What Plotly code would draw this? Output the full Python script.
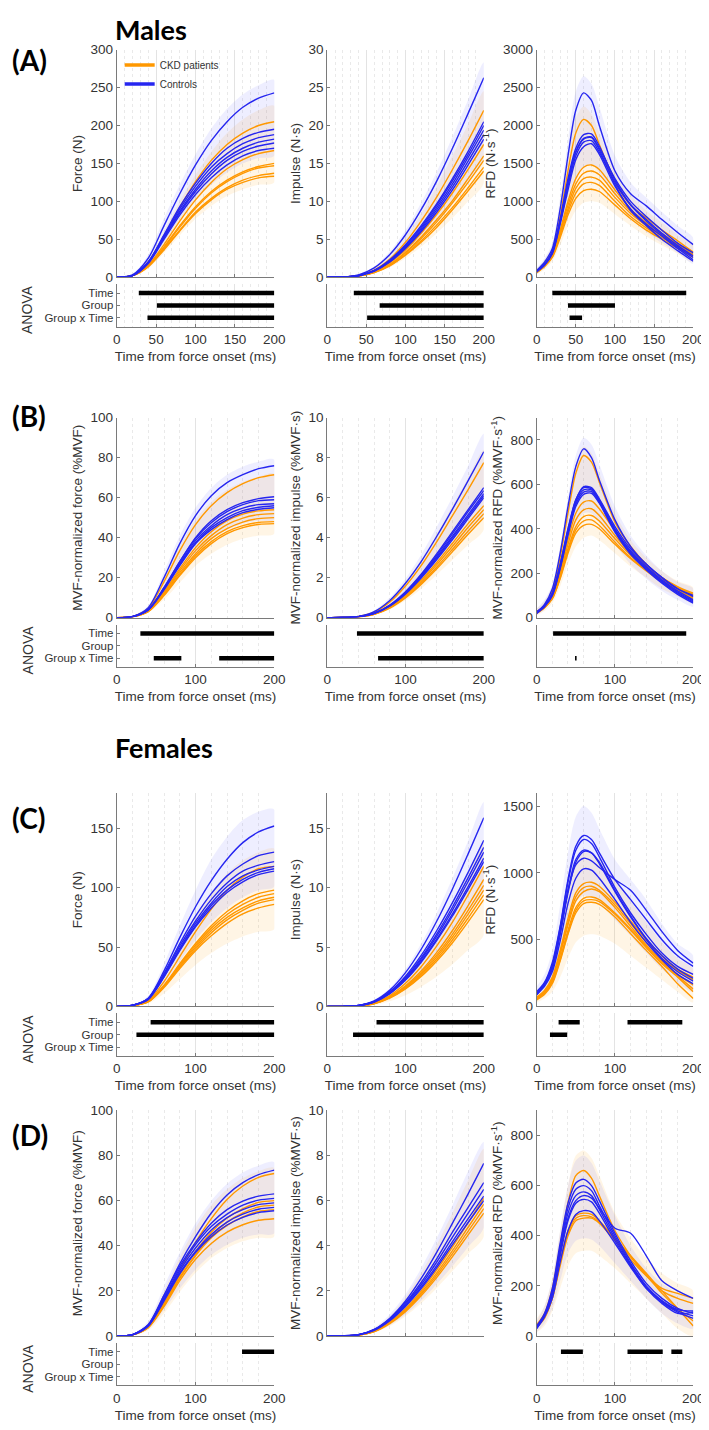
import plotly.graph_objects as go

W, H = 709, 1430

# ---------------- time bases (ms) ----------------
T_F = [0, 20, 40, 60, 80, 100, 120, 140, 160, 180, 200]
T_R = [0, 10, 20, 30, 40, 50, 60, 70, 80, 100, 120, 140, 160, 180, 200]

# ================= (A) Males, absolute =================
A_FORCE_CTRL = [
    [0, 3, 25, 68, 110, 148, 180, 205, 224, 236, 243],
    [0, 2, 20, 56, 93, 124, 150, 170, 183, 191, 195],
    [0, 2, 20, 55, 90, 120, 145, 163, 176, 184, 188],
    [0, 2, 19, 53, 87, 116, 140, 158, 170, 178, 182],
    [0, 2, 19, 52, 85, 113, 136, 154, 166, 173, 177],
    [0, 2, 18, 50, 82, 109, 131, 148, 160, 167, 170],
]
A_FORCE_CKD = [
    [0, 2, 20, 54, 92, 126, 154, 175, 190, 200, 205],
    [0, 2, 16, 43, 74, 102, 125, 143, 155, 163, 167],
    [0, 2, 15, 40, 68, 93, 113, 128, 139, 146, 150],
    [0, 2, 15, 39, 66, 91, 111, 126, 137, 144, 147],
    [0, 2, 14, 37, 62, 86, 104, 118, 128, 134, 137],
    [0, 2, 14, 36, 61, 84, 102, 116, 125, 131, 133],
]
A_FORCE_CTRL_BAND = ([0, 4, 30, 78, 122, 162, 196, 222, 241, 253, 260],
                     [0, 1, 15, 45, 76, 101, 122, 138, 150, 157, 160])
A_FORCE_CKD_BAND = ([0, 3, 23, 60, 100, 135, 165, 190, 208, 220, 226],
                    [0, 1, 11, 32, 55, 77, 94, 107, 116, 122, 125])

A_IMP_CTRL = [
    [0, 0.03, 0.31, 1.24, 3.0, 5.6, 8.9, 12.7, 17.0, 21.6, 26.3],
    [0, 0.02, 0.22, 0.9, 2.3, 4.3, 6.8, 9.7, 13.0, 16.6, 20.5],
    [0, 0.02, 0.21, 0.88, 2.2, 4.2, 6.6, 9.5, 12.7, 16.2, 20.0],
    [0, 0.02, 0.2, 0.85, 2.1, 4.05, 6.4, 9.2, 12.3, 15.8, 19.4],
    [0, 0.02, 0.2, 0.82, 2.05, 3.9, 6.2, 8.9, 11.9, 15.3, 18.8],
    [0, 0.02, 0.19, 0.8, 2.0, 3.8, 6.0, 8.6, 11.5, 14.8, 18.2],
]
A_IMP_CKD = [
    [0, 0.02, 0.22, 0.95, 2.4, 4.6, 7.4, 10.6, 14.2, 18.0, 22.0],
    [0, 0.02, 0.17, 0.75, 1.9, 3.6, 5.8, 8.3, 11.1, 14.2, 17.5],
    [0, 0.02, 0.16, 0.68, 1.7, 3.3, 5.3, 7.6, 10.1, 13.0, 16.0],
    [0, 0.02, 0.15, 0.66, 1.65, 3.2, 5.1, 7.3, 9.8, 12.5, 15.4],
    [0, 0.02, 0.14, 0.62, 1.55, 3.0, 4.8, 6.9, 9.2, 11.8, 14.5],
    [0, 0.02, 0.14, 0.6, 1.5, 2.9, 4.6, 6.6, 8.9, 11.4, 14.0],
]
A_IMP_CTRL_BAND = ([0, 0.04, 0.35, 1.4, 3.4, 6.2, 9.8, 13.9, 18.5, 23.4, 28.3],
                   [0, 0.01, 0.15, 0.65, 1.65, 3.1, 5.0, 7.2, 9.7, 12.5, 15.5])
A_IMP_CKD_BAND = ([0, 0.03, 0.28, 1.15, 2.8, 5.3, 8.4, 12.0, 16.0, 20.2, 24.5],
                  [0, 0.01, 0.11, 0.5, 1.3, 2.5, 4.0, 5.8, 7.8, 10.0, 12.4])

A_RFD_CTRL = [
    [90, 200, 380, 900, 1600, 2200, 2430, 2330, 2000, 1400, 1100, 940, 760, 590, 430],
    [80, 170, 330, 740, 1250, 1650, 1830, 1850, 1700, 1300, 1000, 800, 620, 450, 320],
    [80, 170, 340, 760, 1300, 1700, 1880, 1890, 1730, 1280, 960, 760, 580, 420, 280],
    [80, 160, 320, 720, 1200, 1600, 1780, 1800, 1650, 1250, 950, 740, 560, 400, 260],
    [80, 160, 310, 700, 1150, 1550, 1720, 1760, 1620, 1200, 900, 700, 540, 380, 230],
    [70, 160, 330, 740, 1250, 1650, 1820, 1840, 1680, 1220, 880, 680, 500, 350, 210],
]
A_RFD_CKD = [
    [80, 180, 340, 800, 1400, 1900, 2080, 2000, 1750, 1250, 950, 780, 620, 480, 330],
    [70, 160, 300, 620, 1000, 1300, 1450, 1480, 1420, 1150, 900, 720, 580, 440, 330],
    [70, 150, 290, 600, 950, 1230, 1370, 1400, 1350, 1100, 870, 700, 560, 430, 300],
    [70, 150, 280, 570, 900, 1170, 1300, 1320, 1280, 1050, 840, 680, 540, 410, 290],
    [60, 140, 270, 550, 860, 1110, 1230, 1250, 1210, 1000, 800, 650, 520, 400, 280],
    [60, 140, 260, 520, 820, 1040, 1140, 1160, 1130, 950, 770, 620, 500, 380, 260],
]
A_RFD_CTRL_BAND = ([120, 250, 450, 1050, 1800, 2450, 2650, 2550, 2250, 1600, 1250, 1050, 860, 680, 520],
                   [50, 120, 250, 550, 950, 1300, 1450, 1480, 1380, 1080, 800, 600, 450, 320, 180])
A_RFD_CKD_BAND = ([110, 230, 420, 950, 1600, 2100, 2250, 2150, 1900, 1400, 1080, 880, 720, 560, 420],
                  [40, 100, 210, 420, 680, 880, 980, 1000, 980, 830, 680, 540, 420, 310, 200])

A_FORCE_ANOVA = [("Time", 28, 200), ("Group", 51, 200), ("Group x Time", 39, 200)]
A_IMP_ANOVA = [("Time", 34, 200), ("Group", 67, 200), ("Group x Time", 51, 200)]
A_RFD_ANOVA = [("Time", 20, 191), ("Group", 40, 100), ("Group x Time", 42, 58)]

# ================= (B) Males, MVF-normalized =================
B_FORCE_CTRL = [
    [0, 0.6, 5, 20, 37, 51, 61, 67.5, 71.5, 74.5, 76],
    [0, 0.5, 4, 15, 28, 40, 48.5, 54, 57.5, 59.5, 60.5],
    [0, 0.5, 4, 15, 28, 39.5, 47.5, 53, 56.5, 58.5, 59],
    [0, 0.5, 4, 14.5, 27, 38.5, 46, 51.5, 54.8, 56.5, 57],
    [0, 0.5, 3.8, 14, 26.5, 37.5, 45, 50, 53.5, 55.2, 56],
    [0, 0.5, 3.8, 14, 26, 37, 44, 49, 52.5, 54.2, 55],
]
B_FORCE_CKD = [
    [0, 0.5, 4.5, 18, 33.5, 46.5, 56, 62.5, 67, 70, 71.5],
    [0, 0.5, 3.5, 13, 24.5, 35, 43, 48.5, 51.8, 53.4, 54],
    [0, 0.5, 3.4, 12.5, 23.5, 33.5, 41, 46.5, 49.8, 51.5, 52],
    [0, 0.4, 3.2, 12, 22.5, 32, 39.5, 44.5, 47.8, 49.5, 50],
    [0, 0.4, 3.1, 11.5, 21.5, 31, 38, 43, 46, 47.6, 48],
    [0, 0.4, 3, 11, 21, 30, 37, 42, 45, 46.6, 47],
]
B_FORCE_CTRL_BAND = ([0, 0.8, 6, 23, 41, 55, 65, 71.5, 75.5, 78, 79],
                     [0, 0.3, 3, 11.5, 22, 32, 39, 44, 47, 48.5, 49])
B_FORCE_CKD_BAND = ([0, 0.7, 5.5, 20, 36, 49, 58, 64, 68, 70.5, 72],
                    [0, 0.3, 2.5, 9, 17.5, 26, 32, 36.5, 39.5, 41, 42])

B_IMP_CTRL = [
    [0, 0.006, 0.06, 0.3, 0.86, 1.72, 2.8, 4.07, 5.43, 6.85, 8.3],
    [0, 0.005, 0.05, 0.22, 0.63, 1.3, 2.17, 3.2, 4.3, 5.4, 6.5],
    [0, 0.005, 0.05, 0.22, 0.62, 1.27, 2.12, 3.12, 4.2, 5.3, 6.35],
    [0, 0.005, 0.05, 0.21, 0.6, 1.23, 2.06, 3.03, 4.08, 5.15, 6.2],
    [0, 0.005, 0.048, 0.21, 0.59, 1.2, 2.02, 2.97, 4.0, 5.05, 6.1],
    [0, 0.005, 0.047, 0.2, 0.58, 1.18, 1.98, 2.9, 3.9, 4.95, 6.0],
]
B_IMP_CKD = [
    [0, 0.005, 0.055, 0.27, 0.78, 1.58, 2.6, 3.8, 5.1, 6.4, 7.75],
    [0, 0.005, 0.045, 0.19, 0.55, 1.12, 1.88, 2.76, 3.72, 4.7, 5.6],
    [0, 0.005, 0.044, 0.18, 0.52, 1.07, 1.8, 2.65, 3.57, 4.52, 5.4],
    [0, 0.004, 0.042, 0.17, 0.5, 1.03, 1.72, 2.53, 3.42, 4.33, 5.2],
    [0, 0.004, 0.04, 0.165, 0.48, 0.99, 1.66, 2.44, 3.3, 4.17, 5.0],
]
B_IMP_CTRL_BAND = ([0, 0.008, 0.08, 0.36, 1.0, 1.95, 3.15, 4.55, 6.05, 7.6, 9.2],
                   [0, 0.003, 0.035, 0.16, 0.47, 0.98, 1.65, 2.45, 3.32, 4.2, 5.1])
B_IMP_CKD_BAND = ([0, 0.007, 0.07, 0.32, 0.9, 1.8, 2.9, 4.2, 5.6, 7.0, 8.4],
                  [0, 0.003, 0.03, 0.13, 0.4, 0.85, 1.45, 2.15, 2.9, 3.65, 4.4])

B_RFD_CTRL = [
    [25, 60, 130, 290, 500, 680, 760, 720, 620, 440, 320, 240, 180, 130, 100],
    [25, 55, 110, 240, 400, 530, 585, 580, 530, 400, 300, 230, 170, 120, 80],
    [20, 50, 105, 230, 390, 520, 575, 575, 525, 395, 295, 225, 165, 115, 75],
    [20, 50, 100, 225, 380, 510, 565, 568, 520, 390, 290, 220, 160, 110, 70],
    [20, 50, 100, 220, 370, 500, 555, 560, 515, 385, 285, 215, 155, 105, 65],
    [25, 55, 110, 240, 395, 530, 590, 585, 535, 410, 310, 240, 180, 130, 95],
]
B_RFD_CKD = [
    [25, 55, 120, 270, 470, 650, 730, 700, 610, 430, 320, 240, 180, 135, 105],
    [25, 50, 100, 210, 350, 470, 520, 525, 490, 390, 300, 235, 180, 140, 110],
    [25, 50, 95, 200, 330, 440, 485, 490, 460, 370, 290, 225, 175, 135, 100],
    [20, 45, 90, 190, 310, 410, 455, 460, 435, 355, 280, 220, 170, 130, 95],
    [20, 45, 85, 180, 300, 395, 435, 440, 415, 340, 270, 215, 165, 125, 90],
    [20, 45, 85, 175, 290, 380, 415, 420, 400, 330, 265, 210, 160, 120, 85],
]
B_RFD_CTRL_BAND = ([40, 80, 150, 320, 540, 730, 810, 780, 690, 500, 370, 280, 210, 160, 130],
                   [10, 35, 80, 180, 310, 420, 470, 470, 430, 330, 240, 175, 120, 80, 50])
B_RFD_CKD_BAND = ([40, 75, 140, 300, 500, 690, 770, 740, 650, 470, 350, 270, 210, 165, 135],
                  [10, 30, 65, 140, 240, 320, 360, 370, 350, 290, 230, 180, 130, 95, 65])

B_FORCE_ANOVA = [("Time", 30, 200), ("Group x Time", 47, 82), ("Group x Time", 130, 200)]
B_IMP_ANOVA = [("Time", 38, 200), ("Group x Time", 65, 200)]
B_RFD_ANOVA = [("Time", 21, 191), ("Group x Time", 49, 51)]

# ================= (C) Females, absolute =================
C_FORCE_CTRL = [
    [0, 1, 7, 30, 58, 84, 106, 124, 138, 147, 152],
    [0, 1, 7, 28, 53, 76, 95, 110, 120, 127, 130],
    [0, 1, 6.5, 27, 51, 72, 90, 104, 114, 119, 122],
    [0, 1, 6.5, 26, 49, 70, 87, 101, 110, 115, 118],
    [0, 1, 6, 25, 48, 68, 85, 98, 107, 113, 116],
    [0, 1, 6, 25, 47, 67, 83, 96, 105, 111, 114],
]
C_FORCE_CKD = [
    [0, 0.8, 5, 21, 42, 63, 82, 98, 109, 116, 118],
    [0, 0.7, 4.5, 18, 36, 53, 68, 80, 89, 95, 98],
    [0, 0.7, 4.3, 17.5, 35, 51.5, 66, 77.5, 86, 92, 95],
    [0, 0.7, 4.2, 17, 34, 50, 64, 75, 83, 89, 92],
    [0, 0.6, 4, 16.5, 33, 48.5, 62, 73, 81, 87, 90],
    [0, 0.6, 3.8, 16, 32, 47, 59.5, 70, 78, 83, 86],
]
C_FORCE_CTRL_BAND = ([0, 1.5, 9, 36, 68, 98, 124, 143, 157, 164, 166],
                     [0, 0.6, 4.5, 19, 38, 56, 71, 83, 92, 98, 101])
C_FORCE_CKD_BAND = ([0, 1.2, 7, 27, 52, 76, 96, 112, 123, 130, 133],
                    [0, 0.3, 2.5, 11, 23, 35, 45, 53, 59, 63, 65])

C_IMP_CTRL = [
    [0, 0.01, 0.09, 0.47, 1.38, 2.85, 4.82, 7.2, 9.9, 12.85, 15.9],
    [0, 0.01, 0.085, 0.43, 1.25, 2.55, 4.3, 6.4, 8.75, 11.3, 14.0],
    [0, 0.01, 0.08, 0.41, 1.2, 2.45, 4.1, 6.12, 8.38, 10.85, 13.4],
    [0, 0.01, 0.08, 0.4, 1.15, 2.36, 3.97, 5.93, 8.12, 10.52, 13.0],
    [0, 0.01, 0.075, 0.38, 1.1, 2.27, 3.82, 5.7, 7.8, 10.1, 12.5],
    [0, 0.01, 0.075, 0.37, 1.08, 2.22, 3.73, 5.57, 7.62, 9.87, 12.2],
]
C_IMP_CKD = [
    [0, 0.008, 0.06, 0.3, 0.92, 1.95, 3.35, 5.1, 7.1, 9.4, 11.8],
    [0, 0.008, 0.055, 0.27, 0.83, 1.75, 3.0, 4.56, 6.4, 8.5, 10.7],
    [0, 0.008, 0.052, 0.26, 0.8, 1.67, 2.87, 4.35, 6.1, 8.1, 10.2],
    [0, 0.007, 0.05, 0.25, 0.77, 1.6, 2.75, 4.18, 5.85, 7.78, 9.8],
    [0, 0.007, 0.048, 0.24, 0.74, 1.53, 2.64, 4.0, 5.6, 7.45, 9.4],
    [0, 0.007, 0.045, 0.23, 0.7, 1.47, 2.52, 3.83, 5.37, 7.13, 9.0],
]
C_IMP_CTRL_BAND = ([0, 0.015, 0.12, 0.55, 1.55, 3.15, 5.3, 7.9, 10.8, 13.95, 17.2],
                   [0, 0.006, 0.055, 0.28, 0.82, 1.7, 2.9, 4.35, 6.0, 7.8, 9.7])
C_IMP_CKD_BAND = ([0, 0.012, 0.09, 0.42, 1.2, 2.45, 4.15, 6.2, 8.55, 11.1, 13.8],
                  [0, 0.003, 0.03, 0.15, 0.45, 0.95, 1.65, 2.52, 3.55, 4.75, 6.0])

C_RFD_CTRL = [
    [110, 180, 330, 600, 950, 1200, 1280, 1250, 1150, 950, 800, 650, 500, 380, 300],
    [100, 170, 300, 560, 870, 1060, 1110, 1090, 1040, 950, 870, 720, 560, 420, 325],
    [100, 170, 310, 590, 930, 1170, 1250, 1220, 1120, 890, 700, 540, 400, 300, 240],
    [90, 160, 290, 550, 870, 1100, 1170, 1150, 1070, 860, 670, 510, 380, 280, 210],
    [90, 160, 280, 540, 850, 1080, 1160, 1150, 1080, 870, 680, 500, 360, 260, 190],
    [90, 150, 260, 490, 770, 960, 1030, 1020, 960, 800, 630, 480, 350, 240, 170],
]
C_RFD_CKD = [
    [70, 120, 220, 420, 660, 850, 920, 930, 900, 780, 640, 500, 380, 280, 220],
    [60, 110, 210, 400, 630, 820, 890, 900, 870, 760, 620, 480, 360, 270, 200],
    [60, 110, 200, 390, 610, 790, 860, 880, 860, 740, 600, 460, 340, 240, 160],
    [60, 100, 190, 360, 570, 740, 810, 820, 800, 700, 580, 450, 330, 230, 130],
    [50, 100, 180, 350, 550, 720, 790, 800, 785, 690, 570, 440, 320, 220, 110],
    [50, 90, 170, 340, 540, 700, 770, 780, 765, 670, 545, 420, 300, 170, 60],
]
C_RFD_CTRL_BAND = ([150, 240, 420, 760, 1150, 1420, 1500, 1450, 1330, 1100, 950, 800, 620, 470, 380],
                   [60, 110, 190, 370, 600, 780, 830, 820, 780, 650, 530, 400, 280, 180, 110])
C_RFD_CKD_BAND = ([100, 170, 300, 560, 860, 1080, 1150, 1150, 1100, 950, 790, 630, 480, 360, 280],
                  [30, 60, 110, 220, 360, 480, 530, 540, 530, 470, 380, 290, 200, 110, 30])

C_FORCE_ANOVA = [("Time", 43, 200), ("Group", 25, 200)]
C_IMP_ANOVA = [("Time", 63, 200), ("Group", 33, 200)]
C_RFD_ANOVA = [("Time", 28, 55), ("Time", 116, 186), ("Group", 17, 39)]

# ================= (D) Females, MVF-normalized =================
D_FORCE_CTRL = [
    [0, 0.6, 5, 18, 32, 44, 54.5, 62.5, 68, 71.5, 73.5],
    [0, 0.6, 5, 18, 31, 41.5, 50, 56, 59.8, 62, 63],
    [0, 0.6, 4.8, 17, 30, 40.5, 48.5, 54, 58, 60.2, 61],
    [0, 0.6, 4.6, 16.5, 29, 39, 47, 52.5, 56, 58.2, 59],
    [0, 0.5, 4.4, 16, 28, 37.5, 45, 50.5, 54, 56.2, 57],
    [0, 0.5, 4.4, 15.5, 27.5, 37, 44, 49.2, 52.6, 54.7, 55.5],
]
D_FORCE_CKD = [
    [0, 0.5, 4.2, 15.5, 29, 41.5, 52, 60.5, 66.5, 70.3, 72],
    [0, 0.5, 4, 14.5, 27, 37.5, 46, 52.3, 56.5, 59.2, 60],
    [0, 0.5, 3.9, 14, 26, 36, 44.5, 50.5, 54.6, 57.2, 58],
    [0, 0.5, 3.8, 13.5, 25.5, 35.5, 43.5, 49, 52.8, 55.2, 56],
    [0, 0.5, 3.7, 13, 24.5, 34, 41, 46, 49.3, 51.3, 52],
]
D_FORCE_CTRL_BAND = ([0, 0.9, 6.5, 22, 37, 50, 60, 67.5, 72.5, 75.5, 77],
                     [0, 0.3, 3, 11.5, 21, 29.5, 36, 40.5, 43.5, 45, 45.5])
D_FORCE_CKD_BAND = ([0, 0.8, 6, 20, 35, 48, 58, 65, 70, 73, 74.5],
                    [0, 0.3, 2.5, 10, 19.5, 28, 34.5, 39, 42, 43.5, 44])

D_IMP_CTRL = [
    [0, 0.006, 0.06, 0.29, 0.79, 1.55, 2.55, 3.72, 5.0, 6.3, 7.65],
    [0, 0.006, 0.06, 0.28, 0.76, 1.47, 2.37, 3.43, 4.6, 5.7, 6.8],
    [0, 0.006, 0.055, 0.27, 0.73, 1.41, 2.27, 3.28, 4.38, 5.45, 6.5],
    [0, 0.006, 0.053, 0.26, 0.7, 1.35, 2.17, 3.13, 4.18, 5.2, 6.2],
    [0, 0.005, 0.05, 0.25, 0.68, 1.31, 2.1, 3.03, 4.05, 5.03, 6.0],
]
D_IMP_CKD = [
    [0, 0.005, 0.045, 0.22, 0.62, 1.22, 2.0, 2.93, 3.95, 5.03, 6.1],
    [0, 0.005, 0.044, 0.21, 0.6, 1.17, 1.92, 2.8, 3.78, 4.82, 5.85],
    [0, 0.005, 0.042, 0.2, 0.58, 1.13, 1.85, 2.7, 3.65, 4.65, 5.65],
    [0, 0.005, 0.04, 0.19, 0.55, 1.08, 1.78, 2.6, 3.52, 4.48, 5.45],
]
D_IMP_CTRL_BAND = ([0, 0.008, 0.08, 0.36, 0.96, 1.85, 3.0, 4.35, 5.8, 7.3, 8.6],
                   [0, 0.003, 0.035, 0.17, 0.48, 0.95, 1.56, 2.3, 3.1, 3.95, 4.8])
D_IMP_CKD_BAND = ([0, 0.007, 0.07, 0.32, 0.88, 1.72, 2.8, 4.05, 5.45, 6.9, 8.3],
                  [0, 0.003, 0.03, 0.15, 0.44, 0.88, 1.45, 2.13, 2.88, 3.65, 4.4])

D_RFD_CTRL = [
    [35, 80, 170, 330, 470, 540, 560, 550, 510, 430, 410, 320, 220, 180, 150],
    [40, 90, 190, 370, 530, 610, 625, 600, 540, 410, 300, 210, 150, 110, 90],
    [35, 85, 180, 350, 510, 585, 600, 580, 520, 400, 290, 200, 140, 100, 80],
    [35, 85, 175, 340, 490, 560, 575, 560, 505, 390, 285, 195, 135, 95, 70],
    [30, 80, 165, 320, 460, 530, 545, 535, 490, 380, 280, 190, 130, 90, 95],
    [30, 75, 150, 295, 420, 485, 500, 495, 460, 370, 275, 190, 140, 105, 100],
]
D_RFD_CKD = [
    [45, 90, 190, 360, 530, 640, 660, 630, 560, 420, 320, 240, 180, 150, 130],
    [40, 80, 160, 300, 420, 480, 490, 485, 460, 390, 320, 250, 180, 110, 40],
    [40, 75, 150, 290, 410, 470, 480, 475, 455, 385, 315, 245, 170, 110, 60],
    [35, 70, 150, 280, 400, 460, 470, 470, 450, 380, 305, 240, 190, 170, 150],
]
D_RFD_CTRL_BAND = ([60, 120, 230, 420, 600, 700, 720, 690, 620, 480, 360, 270, 210, 170, 140],
                   [15, 50, 110, 220, 330, 380, 390, 385, 360, 290, 220, 150, 90, 50, 30])
D_RFD_CKD_BAND = ([70, 120, 230, 420, 600, 720, 740, 710, 640, 490, 390, 310, 250, 210, 180],
                  [15, 40, 100, 190, 280, 330, 340, 340, 320, 270, 210, 150, 90, 30, 0])

D_FORCE_ANOVA = [("Time", 159, 200)]
D_IMP_ANOVA = []
D_RFD_ANOVA = [("Time", 31, 59), ("Time", 116, 161), ("Time", 172, 186)]

# ---------------- axis labels ----------------
ANOVA_LABELS = ["Time", "Group", "Group x Time"]
ANOVA_LEVEL = {"Time": 3, "Group": 2, "Group x Time": 1}
X_TITLE = "Time from force onset (ms)"
YT_ABS = ["Force (N)", "Impulse (N·s)", "RFD (N·s<sup>-1</sup>)"]
YT_NORM = ["MVF-normalized force (%MVF)", "MVF-normalized impulse (%MVF·s)",
           "MVF-normalized RFD (%MVF·s<sup>-1</sup>)"]

PANELS = [
    # row, col, time, ckd, ctrl, ckd band, ctrl band, ymax, ydtick, ytitle, anova, xdtick
    (0, 0, T_F, A_FORCE_CKD, A_FORCE_CTRL, A_FORCE_CKD_BAND, A_FORCE_CTRL_BAND, 300, 50, YT_ABS[0], A_FORCE_ANOVA, 50),
    (0, 1, T_F, A_IMP_CKD, A_IMP_CTRL, A_IMP_CKD_BAND, A_IMP_CTRL_BAND, 30, 5, YT_ABS[1], A_IMP_ANOVA, 50),
    (0, 2, T_R, A_RFD_CKD, A_RFD_CTRL, A_RFD_CKD_BAND, A_RFD_CTRL_BAND, 3000, 500, YT_ABS[2], A_RFD_ANOVA, 50),
    (1, 0, T_F, B_FORCE_CKD, B_FORCE_CTRL, B_FORCE_CKD_BAND, B_FORCE_CTRL_BAND, 100, 20, YT_NORM[0], B_FORCE_ANOVA, 100),
    (1, 1, T_F, B_IMP_CKD, B_IMP_CTRL, B_IMP_CKD_BAND, B_IMP_CTRL_BAND, 10, 2, YT_NORM[1], B_IMP_ANOVA, 100),
    (1, 2, T_R, B_RFD_CKD, B_RFD_CTRL, B_RFD_CKD_BAND, B_RFD_CTRL_BAND, 900, 200, YT_NORM[2], B_RFD_ANOVA, 100),
    (2, 0, T_F, C_FORCE_CKD, C_FORCE_CTRL, C_FORCE_CKD_BAND, C_FORCE_CTRL_BAND, 180, 50, YT_ABS[0], C_FORCE_ANOVA, 100),
    (2, 1, T_F, C_IMP_CKD, C_IMP_CTRL, C_IMP_CKD_BAND, C_IMP_CTRL_BAND, 18, 5, YT_ABS[1], C_IMP_ANOVA, 100),
    (2, 2, T_R, C_RFD_CKD, C_RFD_CTRL, C_RFD_CKD_BAND, C_RFD_CTRL_BAND, 1600, 500, YT_ABS[2], C_RFD_ANOVA, 100),
    (3, 0, T_F, D_FORCE_CKD, D_FORCE_CTRL, D_FORCE_CKD_BAND, D_FORCE_CTRL_BAND, 100, 20, YT_NORM[0], D_FORCE_ANOVA, 100),
    (3, 1, T_F, D_IMP_CKD, D_IMP_CTRL, D_IMP_CKD_BAND, D_IMP_CTRL_BAND, 10, 2, YT_NORM[1], D_IMP_ANOVA, 100),
    (3, 2, T_R, D_RFD_CKD, D_RFD_CTRL, D_RFD_CKD_BAND, D_RFD_CTRL_BAND, 900, 200, YT_NORM[2], D_RFD_ANOVA, 100),
]

# ---------------- geometry & style ----------------
COLS = [(107, 268), (322, 482), (536, 696)]
ROWS = [((35, 265), (272, 315)), ((407, 609), (616, 659)),
        ((786, 1002), (1009, 1052)), ((1107, 1335), (1342, 1385))]
ORANGE = "rgb(255,152,0)"
BLUE = "rgb(38,38,240)"
ORANGE_FILL = "rgba(255,170,40,0.12)"
BLUE_FILL = "rgba(90,90,255,0.10)"
AX_COLOR = "#7a7a7a"
TXT = "#333333"
FONT = "Liberation Sans, Arial, sans-serif"
FS = 13.5


def xdom(c):
    return [COLS[c][0] / W, COLS[c][1] / W]


def ydom(top, bot):
    return [1 - bot / H, 1 - top / H]


fig = go.Figure()
layout = {}

for k, (r, c, T, ckd, ctrl, ckd_b, ctrl_b, ymax, ydt, ytitle, anova, xdt) in enumerate(PANELS):
    ia, ib = 2 * k + 1, 2 * k + 2
    xa, ya = f"x{ia}", f"y{ia}"
    xb, yb = f"x{ib}", f"y{ib}"
    minor = xdt / 5

    for band, col in ((ckd_b, ORANGE_FILL), (ctrl_b, BLUE_FILL)):
        up, lo = band
        fig.add_trace(go.Scatter(x=list(T) + list(T)[::-1], y=list(up) + list(lo)[::-1],
                                 fill="toself", fillcolor=col, mode="lines",
                                 line=dict(width=0, shape="spline", smoothing=0.8),
                                 hoverinfo="skip", showlegend=False, xaxis=xa, yaxis=ya))
    for series, col in ((ckd, ORANGE), (ctrl, BLUE)):
        for s in series:
            fig.add_trace(go.Scatter(x=T, y=s, mode="lines",
                                     line=dict(color=col, width=1.4, shape="spline", smoothing=0.8),
                                     hoverinfo="skip", showlegend=False, xaxis=xa, yaxis=ya))
    for lab, t0, t1 in anova:
        lv = ANOVA_LEVEL[lab]
        fig.add_trace(go.Scatter(x=[t0, t1], y=[lv, lv], mode="lines",
                                 line=dict(color="black", width=4.5),
                                 hoverinfo="skip", showlegend=False, xaxis=xb, yaxis=yb))

    (mt, mb), (st, sb) = ROWS[r]
    common_x = dict(range=[0, 200], showline=True, linecolor=AX_COLOR, linewidth=1,
                    ticks="inside", ticklen=3, tickcolor=AX_COLOR, dtick=xdt, tick0=0,
                    showgrid=True, gridcolor="#e3e3e3", gridwidth=1, zeroline=False,
                    minor=dict(dtick=minor, tick0=0, showgrid=True, gridcolor="#e9e9e9",
                               griddash="dot", ticks=""),
                    domain=xdom(c), tickfont=dict(family=FONT, size=FS, color=TXT))
    layout[f"xaxis{ia}"] = dict(common_x, anchor=ya, showticklabels=False)
    layout[f"xaxis{ib}"] = dict(common_x, anchor=yb, showticklabels=True,
                                title=dict(text=X_TITLE, font=dict(family=FONT, size=FS, color=TXT),
                                           standoff=5))
    layout[f"yaxis{ia}"] = dict(range=[0, ymax], domain=ydom(mt, mb), anchor=xa,
                                showline=True, linecolor=AX_COLOR, ticks="inside", ticklen=3,
                                tickcolor=AX_COLOR, dtick=ydt, tick0=0, showgrid=False,
                                zeroline=False, tickfont=dict(family=FONT, size=FS, color=TXT),
                                title=dict(text=ytitle, font=dict(family=FONT, size=FS, color=TXT),
                                           standoff=4))
    strip_y = dict(range=[0.28, 3.72], domain=ydom(st, sb), anchor=xb,
                   showline=True, linecolor=AX_COLOR, showgrid=False, zeroline=False)
    if c == 0:
        strip_y.update(tickvals=[3, 2, 1], ticktext=ANOVA_LABELS, ticks="inside", ticklen=3,
                       tickcolor=AX_COLOR, tickfont=dict(family=FONT, size=11.5, color=TXT))
    else:
        strip_y.update(showticklabels=False, ticks="")
    layout[f"yaxis{ib}"] = strip_y

# legend entries
fig.add_trace(go.Scatter(x=[None], y=[None], mode="lines", name="CKD patients",
                         legendgroup="ckd", line=dict(color=ORANGE, width=3.5),
                         xaxis="x1", yaxis="y1"))
fig.add_trace(go.Scatter(x=[None], y=[None], mode="lines", name="Controls",
                         legendgroup="ctrl", line=dict(color=BLUE, width=3.5),
                         xaxis="x1", yaxis="y1"))

annotations = []
for txt, py in (("<b>Males</b>", 15), ("<b>Females</b>", 740)):
    annotations.append(dict(text=txt, x=103 / W, y=1 - py / H, xref="paper", yref="paper",
                            xanchor="left", yanchor="middle", showarrow=False,
                            font=dict(family="Lato, Open Sans, sans-serif", size=27, color="black")))
for txt, py in (("<b>(A)</b>", 45), ("<b>(B)</b>", 405), ("<b>(C)</b>", 812), ("<b>(D)</b>", 1132)):
    annotations.append(dict(text=txt, x=-2 / W, y=1 - py / H, xref="paper", yref="paper",
                            xanchor="left", yanchor="middle", showarrow=False,
                            font=dict(family="Lato, Open Sans, sans-serif", size=28, color="black")))
for (mt, mb), (st, sb) in ROWS:
    annotations.append(dict(text="ANOVA", x=16 / W, y=1 - ((st + sb) / 2 + 4) / H,
                            xref="paper", yref="paper", textangle=-90, showarrow=False,
                            xanchor="center", yanchor="middle",
                            font=dict(family=FONT, size=14, color=TXT)))

fig.update_layout(
    width=W, height=H, margin=dict(l=0, r=0, t=0, b=0),
    paper_bgcolor="white", plot_bgcolor="white",
    showlegend=True,
    legend=dict(x=110 / W, y=1 - 36 / H, xanchor="left", yanchor="top",
                bgcolor="rgba(0,0,0,0)", font=dict(family=FONT, size=10, color=TXT),
                itemwidth=30, tracegroupgap=0),
    annotations=annotations,
    **layout,
)

fig.write_html("out.html")
